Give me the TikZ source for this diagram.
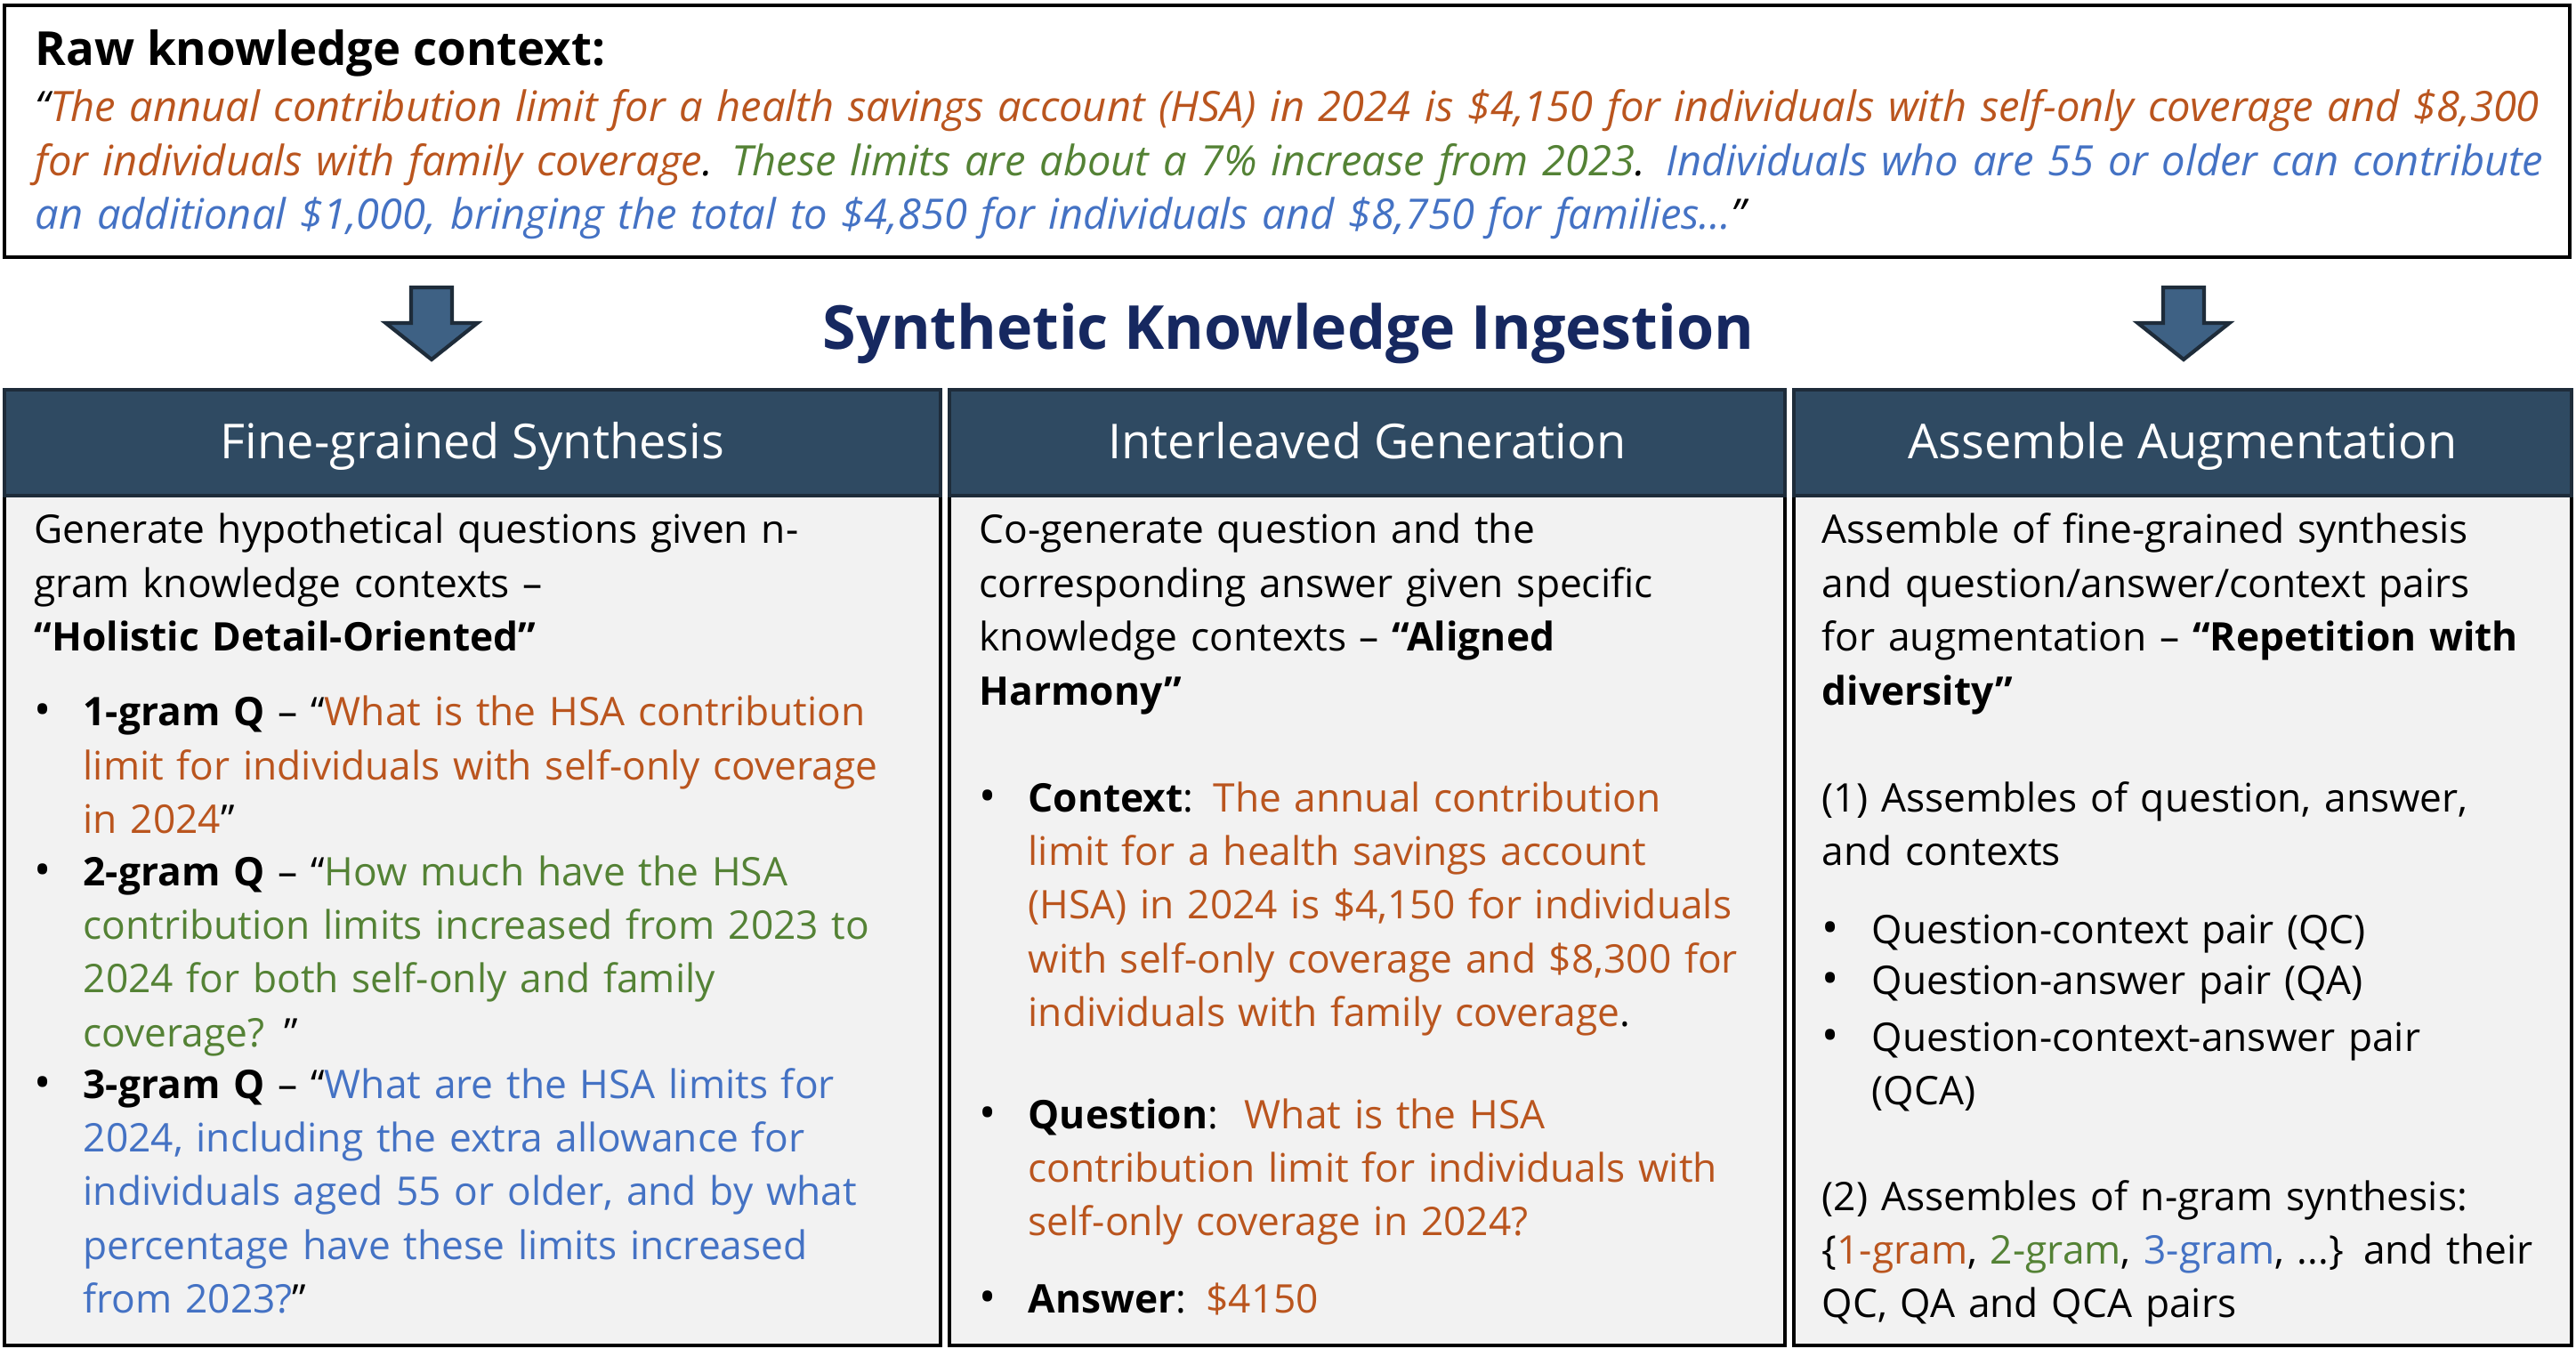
\documentclass[tikz,border=0pt]{standalone}
\usepackage{fontspec}
\setmainfont{Open Sans}
\definecolor{hsaor}{RGB}{186,85,30}
\definecolor{hsagr}{RGB}{84,130,53}
\definecolor{hsabl}{RGB}{68,114,196}
\definecolor{navytitle}{RGB}{22,40,96}
\definecolor{headcol}{RGB}{47,74,98}
\definecolor{headline}{RGB}{30,44,58}
\definecolor{arrowcol}{RGB}{62,97,132}
\definecolor{bodycol}{RGB}{242,242,242}
\newcommand{\orng}[1]{{\color{hsaor}#1}}
\newcommand{\grn}[1]{{\color{hsagr}#1}}
\newcommand{\blu}[1]{{\color{hsabl}#1}}
\tikzset{
  bodytxt/.style={anchor=base west, inner sep=0pt, align=left, text width=12cm,
                  font=\fontsize{12.6}{17.2}\selectfont},
  bul/.style={anchor=base west, inner sep=0pt, font=\fontsize{14.5}{17.2}\selectfont},
  headtxt/.style={anchor=base, inner sep=0pt, text=white, font=\fontsize{15.4}{17}\selectfont}
}

\begin{document}
\begin{tikzpicture}
\useasboundingbox (0,0) rectangle (28.95,-15.25);

% ── Raw context box ──────────────────────────────────────────────────────────
\node[draw, line width=1.2pt, minimum width=28.83cm, minimum height=2.83cm, inner sep=0pt]
     (rawbox) at (14.465,-1.475) {};
\node[anchor=base west, inner sep=0pt, font=\fontsize{15}{17}\selectfont\bfseries]
     (rawtitle) at (0.39,-0.74) {Raw knowledge context:};
\node[anchor=base west, inner sep=0pt, align=left, text width=28.4cm,
      font=\fontsize{13.4}{17.2}\selectfont\itshape] (rawtext) at (0.39,-1.37)
  {“\orng{The annual contribution limit for a health savings account (HSA) in 2024 is \$4,150 for individuals with self-only coverage and \$8,300}\\
   \orng{for individuals with family coverage}.\hspace{0.45em}\grn{These limits are about a 7\% increase from 2023}. \blu{Individuals who are 55 or older can contribute}\\
   \blu{an additional \$1,000, bringing the total to \$4,850 for individuals and \$8,750 for families...}”};

% ── Block arrows + title ─────────────────────────────────────────────────────
\foreach \c in {4.85, 24.54} {
  \draw[fill=arrowcol, draw=headline, line width=1.2pt]
       (\c-0.23,-3.23) -- (\c+0.23,-3.23) -- (\c+0.23,-3.63) -- (\c+0.515,-3.63)
       -- (\c,-4.04) -- (\c-0.515,-3.63) -- (\c-0.23,-3.63) -- cycle;
}
\node[anchor=base, inner sep=0pt, text=navytitle, font=\fontsize{19.4}{21}\selectfont\bfseries]
     (ingest) at (14.48,-3.93) {Synthetic Knowledge Ingestion};

% ── Three panels ─────────────────────────────────────────────────────────────
\foreach \n/\xa/\xb/\head in {fine/0.05/10.57/Fine-grained Synthesis,
                              inter/10.67/20.06/Interleaved Generation,
                              asm/20.16/28.90/Assemble Augmentation}
{
  \draw[fill=bodycol, line width=1.1pt] (\xa,-5.57) rectangle (\xb,-15.12);
  \draw[fill=headcol, draw=headline, line width=1.1pt] (\xa,-4.38) rectangle (\xb,-5.57);
  \node[headtxt] (head-\n) at ({(\xa+\xb)/2},-5.16) {\head};
}

% Fine-grained synthesis
\node[bodytxt] (fine0) at (0.38,-6.11)
  {Generate hypothetical questions given n-\\gram knowledge contexts –\\\textbf{“Holistic Detail-Oriented”}};
\foreach \y [count=\k] in {8.16, 9.95, 12.34}
  \node[bul] (dotfine\k) at (0.38,-\y) {•};
\node[bodytxt] (fine1) at (0.93,-8.16)
  {\textbf{1-gram Q} – “\orng{What is the HSA contribution\\limit for individuals with self-only coverage\\in 2024}”};
\node[bodytxt] (fine2) at (0.93,-9.95)
  {\textbf{2-gram Q} – “\grn{How much have the HSA\\contribution limits increased from 2023 to\\2024 for both self-only and family\\coverage? }”};
\node[bodytxt] (fine3) at (0.93,-12.34)
  {\textbf{3-gram Q} – “\blu{What are the HSA limits for\\2024, including the extra allowance for\\individuals aged 55 or older, and by what\\percentage have these limits increased\\from 2023?}”};

% Interleaved generation
\node[bodytxt] (inter0) at (11.00,-6.11)
  {Co-generate question and the\\corresponding answer given specific\\knowledge contexts – \textbf{“Aligned\\Harmony”}};
\foreach \y [count=\k] in {9.12, 12.68, 14.75}
  \node[bul] (dotinter\k) at (11.00,-\y) {•};
\node[bodytxt] (inter1) at (11.55,-9.12)
  {\textbf{Context}: \orng{The annual contribution\\limit for a health savings account\\(HSA) in 2024 is \$4,150 for individuals\\with self-only coverage and \$8,300 for\\individuals with family coverage}.};
\node[bodytxt] (inter2) at (11.55,-12.68)
  {\textbf{Question}:\ \ \orng{What is the HSA\\contribution limit for individuals with\\self-only coverage in 2024?}};
\node[bodytxt] (inter3) at (11.55,-14.75)
  {\textbf{Answer}: \orng{\$4150}};

% Assemble augmentation
\node[bodytxt] (asm0) at (20.47,-6.11)
  {Assemble of fine-grained synthesis\\and question/answer/context pairs\\for augmentation – \textbf{“Repetition with\\diversity”}};
\node[bodytxt] (asm1) at (20.47,-9.12)
  {(1) Assembles of question, answer,\\and contexts};
\foreach \y [count=\k] in {10.60, 11.17, 11.81}
  \node[bul] (dotasm\k) at (20.47,-\y) {•};
\node[bodytxt] (asm2) at (21.03,-10.60) {Question-context pair (QC)};
\node[bodytxt] (asm3) at (21.03,-11.17) {Question-answer pair (QA)};
\node[bodytxt] (asm4) at (21.03,-11.81) {Question-context-answer pair\\(QCA)};
\node[bodytxt] (asm5) at (20.47,-13.60)
  {(2) Assembles of n-gram synthesis:\\\{\orng{1-gram}, \grn{2-gram}, \blu{3-gram}, ...\} and their\\QC, QA and QCA pairs};

\end{tikzpicture}
\end{document}
